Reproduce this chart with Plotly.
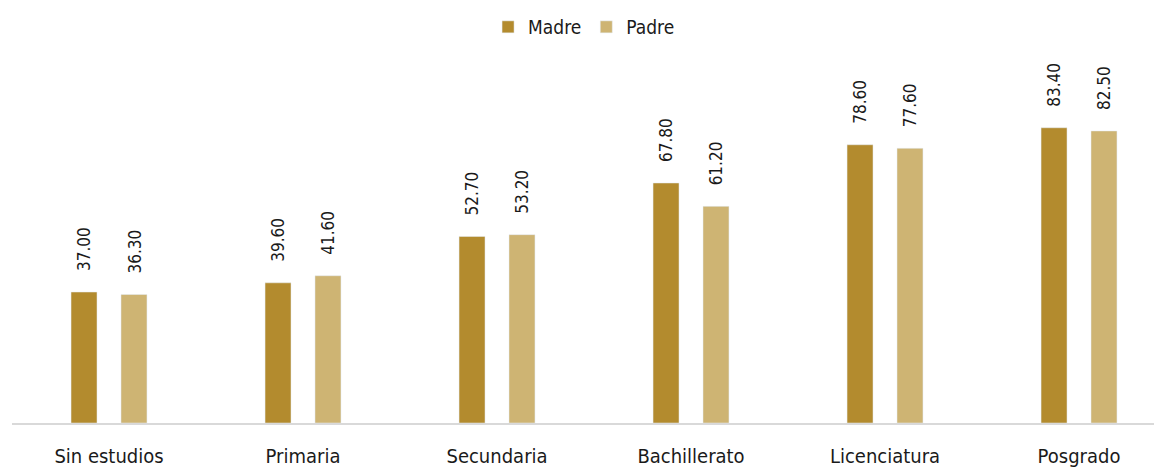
import plotly.graph_objects as go

categories = ["Sin estudios", "Primaria", "Secundaria", "Bachillerato", "Licenciatura", "Posgrado"]
madre = [37.00, 39.60, 52.70, 67.80, 78.60, 83.40]
padre = [36.30, 41.60, 53.20, 61.20, 77.60, 82.50]

C_MADRE = "#B38B2E"
C_PADRE = "#CEB473"
FONT = "DejaVu Sans Condensed, Liberation Sans Narrow, Roboto Condensed, Arial Narrow, sans-serif"

fig = go.Figure()
fig.add_trace(go.Bar(x=categories, y=madre, name="Madre", marker_color=C_MADRE))
fig.add_trace(go.Bar(x=categories, y=padre, name="Padre", marker_color=C_PADRE))

annotations = []
for series, shift in ((madre, -25), (padre, 25)):
    for i, v in enumerate(series):
        annotations.append(dict(
            x=i, y=v, xref="x", yref="y", text=f"{v:.2f}", showarrow=False,
            textangle=-90, xanchor="center", yanchor="bottom", xshift=shift, yshift=19,
            font=dict(family=FONT, size=17, color="#1a1a1a"),
        ))

fig.update_layout(
    width=1162, height=467,
    margin=dict(l=4, r=0, t=61, b=52),
    paper_bgcolor="white", plot_bgcolor="white",
    barmode="group", bargap=0.485, bargroupgap=0.48,
    font=dict(family=FONT, size=18, color="#1a1a1a"),
    showlegend=True,
    legend=dict(orientation="h", x=0.494, xanchor="center", y=1.0, yref="container",
                yanchor="top", font=dict(family=FONT, size=19, color="#1a1a1a"),
                itemwidth=30, tracegroupgap=0),
    annotations=annotations,
    xaxis=dict(type="category", range=[-0.5, 5.469], showline=True, linecolor="#d9d9d9",
               linewidth=2, showgrid=False, ticks="", ticklabelstandoff=14,
               tickfont=dict(family=FONT, size=20, color="#1a1a1a")),
    yaxis=dict(range=[0, 100], visible=False, showgrid=False, zeroline=False),
)

fig.write_html("out.html")
